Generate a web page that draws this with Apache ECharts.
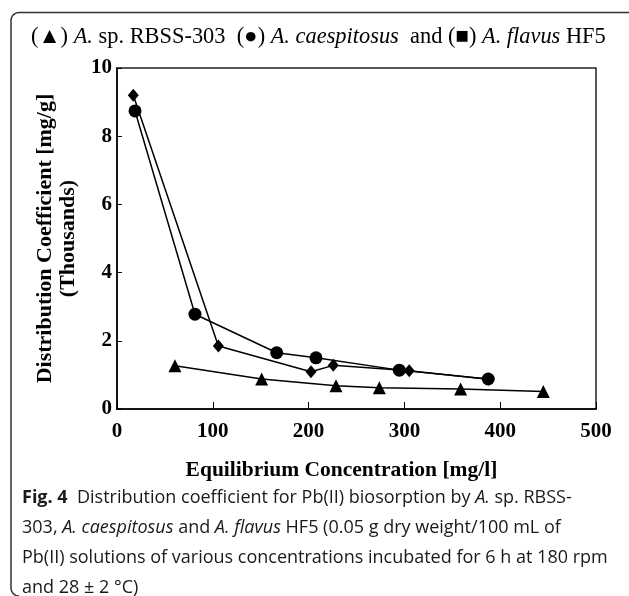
<!DOCTYPE html>
<html><head><meta charset="utf-8">
<script src="https://cdn.jsdelivr.net/npm/echarts@6/dist/echarts.min.js"></script>
<style>html,body{margin:0;padding:0;background:#fff;}#c{width:629px;height:596px;}</style>
</head><body><div id="c"></div>
<script>
// Data (x: equilibrium concentration mg/l, y: distribution coefficient, thousands)
const triangleX = [60.5, 151, 228.6, 273.8, 358.7, 445];
const triangleY = [1.27, 0.88, 0.68, 0.62, 0.59, 0.51];
const circleX = [18.8, 81.4, 166.7, 207.7, 294.7, 387.5];
const circleY = [8.74, 2.78, 1.65, 1.50, 1.14, 0.88];
const diamondX = [17, 105.8, 202.5, 225.8, 305, 387.6];
const diamondY = [9.2, 1.85, 1.09, 1.28, 1.12, 0.87];
const xTicks = [0, 100, 200, 300, 400, 500];
const yTicks = [0, 2, 4, 6, 8, 10];

const pair = (xs, ys) => xs.map((x, i) => [x, ys[i]]);
const chart = echarts.init(document.getElementById('c'), null, {renderer: 'canvas'});
const serif = '"Liberation Serif", "DejaVu Serif", serif';
const sans = '"Open Sans", "Noto Sans", sans-serif';
const lineStyle = {color: '#000', width: 1.5};
function series(name, data, symbol, size) {
  return {name, type: 'line', data, symbol, symbolSize: size, showAllSymbol: true,
    lineStyle, itemStyle: {color: '#000'}, animation: false, z: 3};
}
// rounded corner frame points
const framePts = [[629, 12.5], [19, 12.5]];
for (let a = 0; a <= 8; a++) { const t = Math.PI / 2 + a * Math.PI / 16; framePts.push([19 + 8 * Math.cos(t), 20.5 - 8 * Math.sin(t)]); }
framePts.push([11, 588]);
for (let a = 0; a <= 8; a++) { const t = Math.PI + a * Math.PI / 16; framePts.push([19 + 8 * Math.cos(t), 588 - 8 * Math.sin(t)]); }
chart.setOption({
  animation: false,
  backgroundColor: '#fff',
  grid: {left: 117, top: 68, right: 33, bottom: 187, show: true, borderColor: '#222', borderWidth: 1.5, backgroundColor: 'transparent'},
  xAxis: {type: 'value', min: xTicks[0], max: xTicks[xTicks.length - 1], interval: 100,
    axisLine: {show: true, onZero: false, lineStyle: {color: '#000', width: 1.5}},
    axisTick: {show: true, inside: true, length: 7, lineStyle: {color: '#000', width: 1}},
    axisLabel: {color: '#000', fontFamily: serif, fontWeight: 'bold', fontSize: 21, margin: 12},
    splitLine: {show: false},
    name: 'Equilibrium Concentration [mg/l]', nameLocation: 'middle', nameGap: 50,
    nameTextStyle: {color: '#000', fontFamily: serif, fontWeight: 'bold', fontSize: 21.5, padding: [0, 30, 0, 0]}},
  yAxis: {type: 'value', min: yTicks[0], max: yTicks[yTicks.length - 1], interval: 2,
    axisLine: {show: true, onZero: false, lineStyle: {color: '#000', width: 1.5}},
    axisTick: {show: true, inside: true, length: 5, lineStyle: {color: '#000', width: 1}},
    axisLabel: {color: '#000', fontFamily: serif, fontWeight: 'bold', fontSize: 21, margin: 5},
    splitLine: {show: false},
    name: 'Distribution Coefficient [mg/g]\n(Thousands)', nameLocation: 'middle', nameGap: 37, nameRotate: 90,
    nameTextStyle: {color: '#000', fontFamily: serif, fontWeight: 'bold', fontSize: 22, lineHeight: 23}},
  series: [
    series('A. sp. RBSS-303', pair(triangleX, triangleY), 'triangle', 13),
    series('A. caespitosus', pair(circleX, circleY), 'circle', 13),
    series('A. flavus HF5', pair(diamondX, diamondY), 'diamond', [11, 13])
  ],
  graphic: [
    {type: 'polyline', shape: {points: framePts},
      style: {stroke: '#333', lineWidth: 1.5, fill: null}, silent: true},
    {type: 'text', left: 31, top: 26, style: {
      text: '(▲) {i|A.} sp. RBSS-303  (●) {i|A. caespitosus}  and (■) {i|A. flavus} HF5',
      font: '22.4px ' + serif, fill: '#000',
      rich: {i: {fontStyle: 'italic', fontFamily: serif, fontSize: 22.4}}}},
    {type: 'text', left: 22, top: 483, style: {
      text: '{b|Fig. 4}  Distribution coefficient for Pb(II) biosorption by {i|A.} sp. RBSS-\n303, {i|A. caespitosus} and {i|A. flavus} HF5 (0.05 g dry weight/100 mL of\nPb(II) solutions of various concentrations incubated for 6 h at 180 rpm\nand 28 ± 2 °C)',
      font: '18px ' + sans, fill: '#1a1a1a', lineHeight: 30,
      rich: {b: {fontWeight: 'bold', fontFamily: sans, fontSize: 18, lineHeight: 30},
             i: {fontStyle: 'italic', fontFamily: sans, fontSize: 18, lineHeight: 30}}}}
  ]
});
</script></body></html>
